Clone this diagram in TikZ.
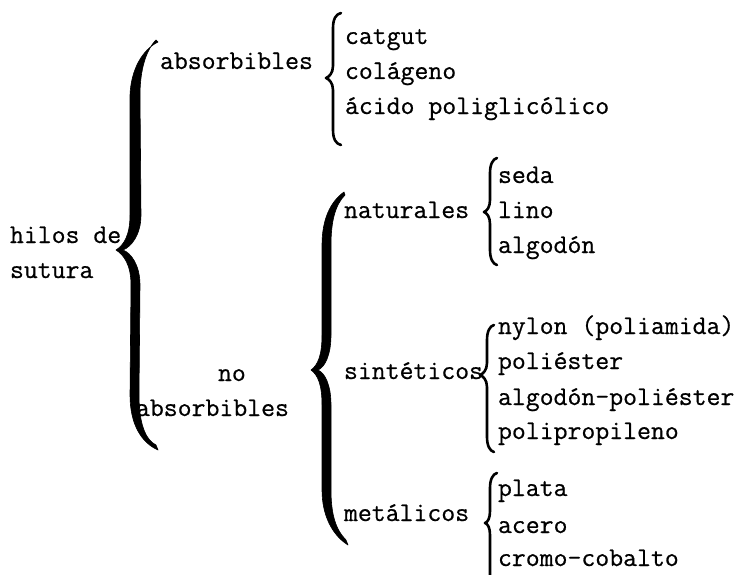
\documentclass[tikz,border=0pt]{standalone}
\usepackage{fontspec}
\setmonofont{Latin Modern Mono}[FakeBold=0.6]
\newcommand\thinbrace[6]{%
  \draw[thinbr] (#2,#4) .. controls (#1+3,#4+1) and (#1,#4+6) .. (#1,#4+15)
    -- (#1,#5-12) .. controls (#1,#5-5) and (#3+3,#5-1) .. (#3,#5)
    .. controls (#3+3,#5+1) and (#1,#5+5) .. (#1,#5+12)
    -- (#1,#6-15) .. controls (#1,#6-6) and (#1+3,#6-1) .. (#2,#6);}
\begin{document}
\begin{tikzpicture}[x=1pt,y=-1pt,
  txt/.style={anchor=base west,inner sep=0pt,outer sep=0pt,font=\ttfamily\fontsize{27}{30}\selectfont},
  thinbr/.style={line width=2.6pt,line cap=round,line join=round},
  thickbr/.style={fill=black,draw=black,line width=0.6pt,line join=round}]
\useasboundingbox (0,0) rectangle (741,575);

% level 0
\node[txt] (hilos) at (10,243) {hilos de};
\node[txt] (sutura) at (10,278) {sutura};

% big brace 1
\path[thickbr] (158,42) .. controls (142,50) and (131,70) .. (130,95)
  -- (130,215) .. controls (130,235) and (124,245) .. (116,250)
  .. controls (124,255) and (131,265) .. (131,285)
  -- (130,395) .. controls (130,425) and (142,443) .. (158,450)
  -- (156,445) .. controls (146,440) and (139,425) .. (139,395)
  -- (140,285) .. controls (140,265) and (131,253) .. (123,250)
  .. controls (131,247) and (141,235) .. (141,215)
  -- (140,95) .. controls (140,70) and (146,50) .. (156,40) -- cycle;

% level 1
\node[txt] (abs) at (160,69) {absorbibles};
\node[txt] (no) at (218,381) {no};
\node[txt] (noabs) at (136,416) {absorbibles};

% absorbibles list
\thinbrace{333}{341}{326}{13}{78}{145}
\node[txt] (catgut) at (345,44) {catgut};
\node[txt] (colageno) at (345,79) {colágeno};
\node[txt] (acido) at (345,114) {ácido poliglicólico};

% big brace 2
\path[thickbr] (344,192) .. controls (330,202) and (322,220) .. (322,245)
  -- (322,335) .. controls (322,355) and (318,365) .. (311,370)
  .. controls (318,375) and (322,385) .. (322,405)
  -- (322,490) .. controls (322,515) and (332,535) .. (348,545)
  -- (346,540) .. controls (336,530) and (331,515) .. (331,490)
  -- (331,405) .. controls (331,385) and (325,373) .. (318,370)
  .. controls (325,367) and (331,355) .. (331,335)
  -- (331,245) .. controls (331,222) and (335,205) .. (345,195) -- cycle;

% level 2
\node[txt] (nat) at (344,218) {naturales};
\node[txt] (sin) at (344,379) {sintéticos};
\node[txt] (met) at (344,521) {metálicos};

% naturales list
\thinbrace{490}{497}{484}{158}{212}{265}
\node[txt] (seda) at (498,183) {seda};
\node[txt] (lino) at (498,218) {lino};
\node[txt] (algodon) at (498,253) {algodón};

% sinteticos list
\thinbrace{487}{494}{480}{325}{375}{452}
\node[txt] (nylon) at (498,334) {nylon (poliamida)};
\node[txt] (poliester) at (498,369) {poliéster};
\node[txt] (algpol) at (498,405) {algodón-poliéster};
\node[txt] (polipro) at (498,439) {polipropileno};

% metalicos list
\draw[thinbr] (497,473) .. controls (493,474) and (490,479) .. (490,488)
  -- (490,511) .. controls (490,518) and (488,522) .. (485,523)
  .. controls (488,524) and (490,528) .. (490,535) -- (490,575);
\node[txt] (plata) at (498,496) {plata};
\node[txt] (acero) at (498,533) {acero};
\node[txt] (cromo) at (498,566) {cromo-cobalto};
\end{tikzpicture}
\end{document}
